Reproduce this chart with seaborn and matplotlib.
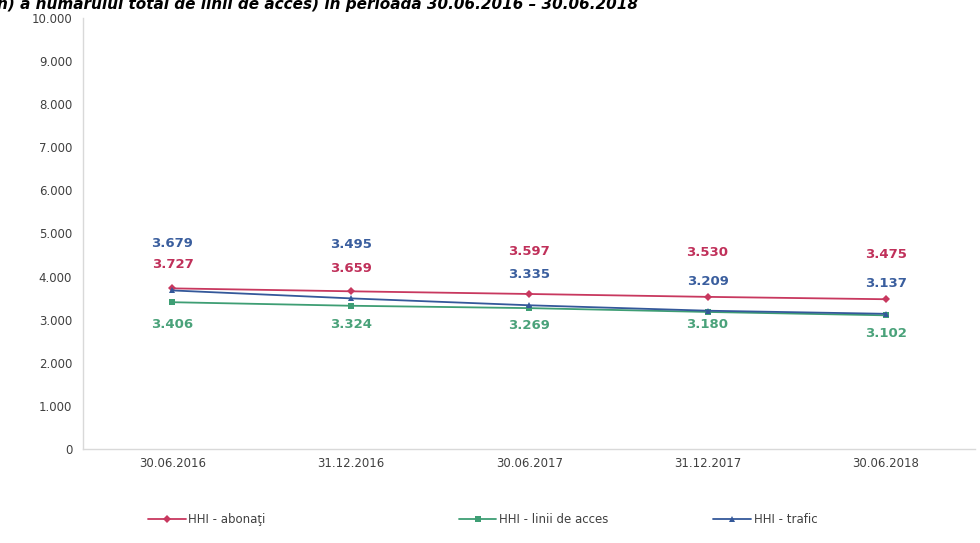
import numpy as np
import pandas as pd
import seaborn as sns
import matplotlib
matplotlib.use('Agg')
import matplotlib.pyplot as plt
from matplotlib.ticker import FuncFormatter

# data
dates = ['30.06.2016', '31.12.2016', '30.06.2017', '31.12.2017', '30.06.2018']
hhi_abonati = [3727, 3659, 3597, 3530, 3475]
hhi_linii = [3406, 3324, 3269, 3180, 3102]
hhi_trafic = [3679, 3495, 3335, 3209, 3137]

series_names = ['HHI - abonaţi', 'HHI - linii de acces', 'HHI - trafic']

# styling
line_colors = {'HHI - abonaţi': '#C8385F', 'HHI - linii de acces': '#3E9E74', 'HHI - trafic': '#34589A'}
label_colors = {'HHI - abonaţi': '#C0305A', 'HHI - linii de acces': '#4AA27A', 'HHI - trafic': '#3A5E9E'}
markers = {'HHI - abonaţi': 'D', 'HHI - linii de acces': 's', 'HHI - trafic': '^'}
msizes = {'HHI - abonaţi': 4, 'HHI - linii de acces': 5, 'HHI - trafic': 5}
# label offsets in pixels (manual placement like in the original chart)
label_offsets = {
    'HHI - abonaţi': [24, 23, 42, 44, 45],
    'HHI - linii de acces': [-22, -19, -17, -13, -18],
    'HHI - trafic': [47, 54, 31, 29, 30],
}
legend_x = [0.151, 0.468, 0.728]

df = pd.DataFrame({
    'Data': dates * 3,
    'HHI': hhi_abonati + hhi_linii + hhi_trafic,
    'Serie': [s for s in series_names for _ in dates],
})

sns.set_style('white')
plt.rcParams['font.family'] = ['DejaVu Sans']

fig = plt.figure(figsize=(9.8, 5.43), dpi=100)
ax = fig.add_axes([0.085, 0.173, 0.91, 0.794])

for name in series_names:
    sub = df[df['Serie'] == name]
    sns.lineplot(data=sub, x='Data', y='HHI', ax=ax, color=line_colors[name], marker=markers[name],
                 markersize=msizes[name], markeredgewidth=0, linewidth=1.3, label=name, sort=False)
    for i, (xv, yv) in enumerate(zip(range(len(dates)), sub['HHI'])):
        ax.annotate(f'{yv/1000:.3f}', (xv, yv), xytext=(0, label_offsets[name][i]),
                    textcoords='offset pixels', ha='center', va='center',
                    fontsize=9.5, fontweight='bold', color=label_colors[name])

ax.set_xlim(-0.5, len(dates) - 0.5)
ax.set_ylim(0, 10000)
ax.set_yticks(np.arange(0, 10001, 1000))
ax.yaxis.set_major_formatter(FuncFormatter(lambda v, p: '0' if v == 0 else f'{v/1000:.3f}'))
ax.set_xlabel('')
ax.set_ylabel('')
ax.tick_params(axis='both', labelsize=8.5, labelcolor='#404040', length=0, pad=8)
ax.tick_params(axis='x', pad=6)
ax.set_xticks(np.arange(-0.5, len(dates), 1), minor=True)
ax.tick_params(axis='x', which='minor', length=4, color='#d9d9d9')

for s in ['top', 'right']:
    ax.spines[s].set_visible(False)
for s in ['left', 'bottom']:
    ax.spines[s].set_color('#d9d9d9')
    ax.spines[s].set_linewidth(1)

ax.get_legend().remove()
handles, labels = ax.get_legend_handles_labels()
for h, l, lx in zip(handles, labels, legend_x):
    leg = fig.legend([h], [l], loc='center left', bbox_to_anchor=(lx, 0.043), frameon=False,
                     fontsize=8.5, handlelength=3.2, labelcolor='#404040', handletextpad=0.2,
                     borderaxespad=0, borderpad=0)

fig.text(-0.003, 1 - 9 / 543, 'n) a numărului total de linii de acces) în perioada 30.06.2016 – 30.06.2018',
         ha='left', va='baseline', fontsize=11, fontstyle='italic', fontweight='bold', color='black')

fig.savefig('out.png', dpi=100)
